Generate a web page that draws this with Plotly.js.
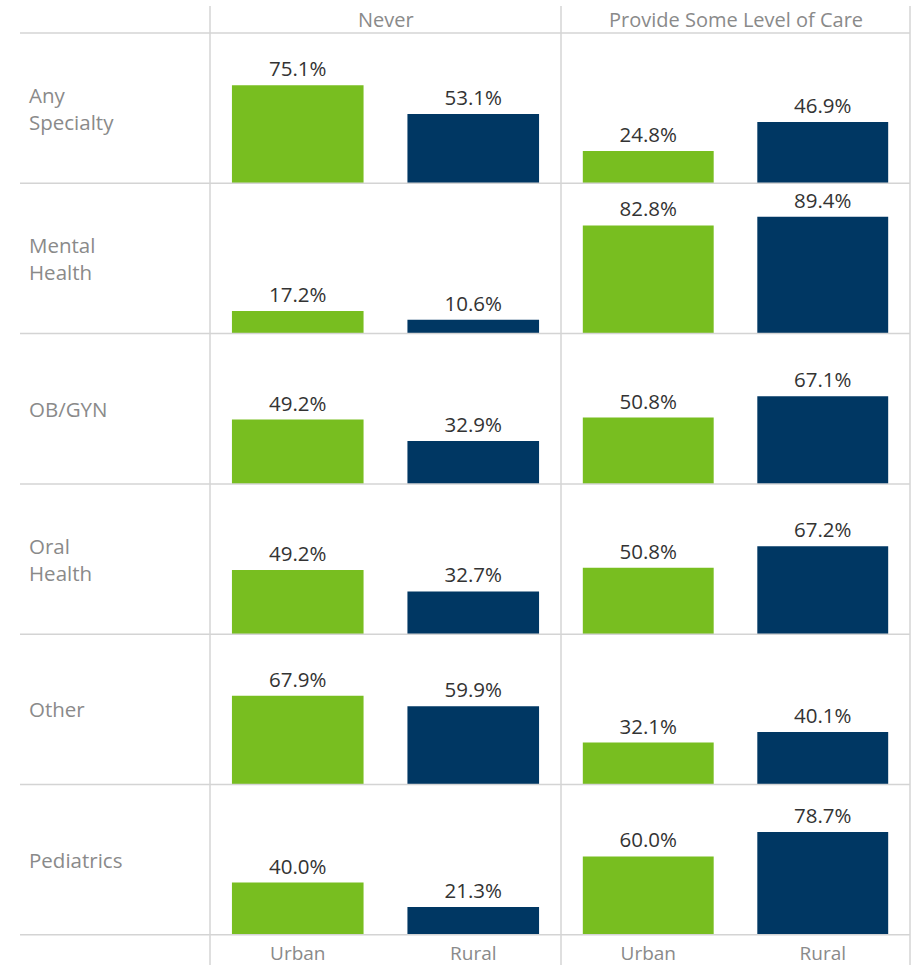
<!DOCTYPE html>
<html>
<head>
<meta charset="utf-8">
<script src="https://cdn.plot.ly/plotly-3.0.1.min.js"></script>
<style>
  html, body { margin: 0; padding: 0; background: #fff; }
  #chart { width: 915px; height: 965px; }
</style>
</head>
<body>
<div id="chart"></div>
<script>
// data
var specialties = ['Any<br>Specialty', 'Mental<br>Health', 'OB/GYN', 'Oral<br>Health', 'Other', 'Pediatrics'];
var columns = ['Never', 'Provide Some Level of Care'];
var groups = ['Urban', 'Rural'];
var neverUrban = [75.1, 17.2, 49.2, 49.2, 67.9, 40.0];
var neverRural = [53.1, 10.6, 32.9, 32.7, 59.9, 21.3];
var careUrban = [24.8, 82.8, 50.8, 50.8, 32.1, 60.0];
var careRural = [46.9, 89.4, 67.1, 67.2, 40.1, 78.7];

var W = 915, H = 965;
var green = '#78be20', navy = '#003763';
var gridColor = '#d4d4d4';
var labelGrey = '#8a8a8a';
var fontFam = '"Open Sans", "Noto Sans", sans-serif';

// pixel layout of the table
var top0 = 33, rowH = 150.3;
var colX = [[210, 561], [561, 910]];
function px(x) { return x / W; }
function py(y) { return 1 - y / H; }

var data = [];
var layout = {
    width: W,
    height: H,
    margin: {l: 0, r: 0, t: 0, b: 0},
    paper_bgcolor: '#fff',
    plot_bgcolor: 'rgba(0,0,0,0)',
    showlegend: false,
    bargap: 0.25,
    font: {family: fontFam, color: '#333'},
    shapes: [],
    annotations: []
};

for (var r = 0; r < specialties.length; r++) {
    var rowTop = top0 + r * rowH;
    for (var c = 0; c < 2; c++) {
        var n = r * 2 + c + 1;
        var vals = c === 0 ? [neverUrban[r], neverRural[r]] : [careUrban[r], careRural[r]];
        data.push({
            type: 'bar',
            x: groups,
            y: vals,
            xaxis: 'x' + n,
            yaxis: 'y' + n,
            marker: {color: [green, navy]},
            text: vals.map(function(v) { return v.toFixed(1) + '%'; }),
            textposition: 'outside',
            textfont: {size: 20.5, color: '#333', family: fontFam},
            cliponaxis: false,
            hoverinfo: 'x+y'
        });
        layout['xaxis' + n] = {
            domain: [px(colX[c][0]), px(colX[c][1])],
            anchor: 'y' + n,
            type: 'category',
            showgrid: false,
            zeroline: false,
            showline: false,
            ticks: 'outside',
            ticklen: 1,
            tickcolor: 'rgba(0,0,0,0)',
            showticklabels: r === specialties.length - 1,
            tickfont: {size: 19, color: labelGrey, family: fontFam}
        };
        layout['yaxis' + n] = {
            domain: [py(rowTop + rowH), py(rowTop)],
            anchor: 'x' + n,
            range: [0, 115],
            showgrid: false,
            zeroline: false,
            showline: false,
            showticklabels: false,
            fixedrange: true
        };
    }
    layout.annotations.push({
        xref: 'paper', yref: 'paper',
        x: px(27), y: py(rowTop + rowH / 2),
        xanchor: 'left', yanchor: 'middle', align: 'left',
        text: specialties[r],
        showarrow: false,
        font: {size: 20.5, color: labelGrey, family: fontFam}
    });
}

// column headers
for (var c = 0; c < columns.length; c++) {
    layout.annotations.push({
        xref: 'paper', yref: 'paper',
        x: px((colX[c][0] + colX[c][1]) / 2), y: py(20),
        xanchor: 'center', yanchor: 'middle',
        text: columns[c],
        showarrow: false,
        font: {size: 20, color: labelGrey, family: fontFam}
    });
}

// table rules
for (var i = 0; i <= specialties.length; i++) {
    var yy = py(top0 + i * rowH);
    layout.shapes.push({
        type: 'line', xref: 'paper', yref: 'paper',
        x0: px(20), x1: px(910), y0: yy, y1: yy,
        line: {color: gridColor, width: 1.5}
    });
}
[210, 561, 910].forEach(function(x) {
    layout.shapes.push({
        type: 'line', xref: 'paper', yref: 'paper',
        x0: px(x), x1: px(x), y0: py(6), y1: 0,
        line: {color: gridColor, width: 1.5}
    });
});

Plotly.newPlot('chart', data, layout, {displayModeBar: false, staticPlot: true});
</script>
</body>
</html>
